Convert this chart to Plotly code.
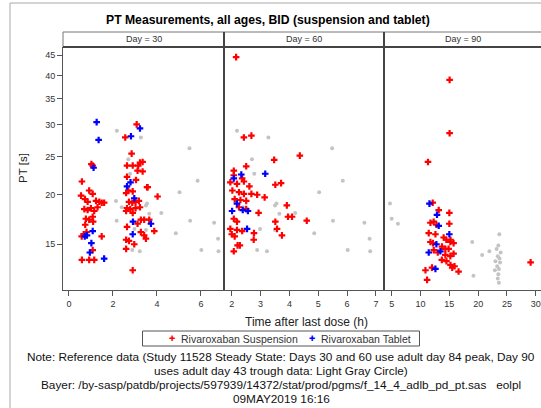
import plotly.graph_objects as go

# ---------------- data ----------------
# Day 30: Rivaroxaban Suspension (time h, PT s)
d30_susp_t = [0.59, 0.55, 0.92, 1.08, 0.73, 0.85, 1.23, 1.38, 1.49, 1.60, 0.70, 0.85, 1.00, 1.15, 1.30,
              1.08, 0.77, 0.92, 1.10, 0.74, 0.67, 0.58, 1.49, 0.59, 0.92, 1.15, 1.08, 1.08, 1.02, 0.80,
              3.08, 2.56, 2.85, 2.64, 2.90, 3.15, 3.23, 2.64, 3.12, 3.05, 3.58, 2.70, 2.90, 2.60, 4.03,
              2.73, 2.88, 3.03, 3.18, 2.64, 2.79, 3.03, 3.23, 2.90, 2.60, 3.27, 3.42, 3.65, 3.12, 2.64,
              3.27, 3.42, 3.50, 3.88, 2.60, 2.73, 2.97, 2.60, 2.90, 3.35, 3.35, 3.55]
d30_susp_pt = [21.6, 19.9, 20.5, 20.1, 19.5, 19.2, 19.3, 19.2, 19.1, 19.1, 18.4, 18.3, 18.5, 18.2, 18.6,
               17.6, 17.4, 17.3, 17.1, 16.8, 15.9, 15.7, 15.7, 13.7, 13.7, 13.7, 14.5, 23.7, 23.9, 16.1,
               30.1, 27.9, 25.4, 23.7, 23.7, 23.7, 24.1, 22.2, 23.0, 21.8, 20.9, 20.5, 20.4, 20.2, 19.8,
               19.2, 19.1, 19.2, 19.3, 18.5, 18.4, 18.5, 18.6, 18.0, 18.2, 17.3, 17.3, 17.3, 16.9, 16.6,
               16.1, 15.8, 15.5, 16.2, 15.4, 15.3, 15.0, 14.6, 12.9, 24.2, 22.9, 20.9]
# Day 30: Rivaroxaban Tablet
d30_tab_t = [1.26, 1.35, 1.12, 1.08, 0.82, 0.72, 1.02, 0.95, 1.60, 2.82, 3.23, 2.64, 2.80, 2.97, 2.91, 2.90, 3.73]
d30_tab_pt = [30.5, 27.5, 23.4, 16.2, 15.8, 15.7, 15.1, 14.3, 13.8, 28.1, 29.4, 21.0, 21.5, 19.6, 17.1, 15.9, 16.9]

# Day 60: Rivaroxaban Suspension
d60_susp_t = [2.15, 2.42, 2.68, 3.47, 4.36, 2.50, 2.07, 2.07, 2.36, 2.42, 1.95, 2.18, 3.51, 3.71, 2.61,
              2.02, 2.25, 2.42, 2.68, 2.88, 3.14, 2.10, 2.30, 2.50, 3.91, 2.25, 2.50, 2.93, 3.95, 4.09,
              4.60, 3.51, 2.07, 2.18, 1.95, 2.18, 2.36, 2.77, 3.57, 3.74, 2.10, 2.76, 2.20, 2.28, 2.07, 2.00]
d60_susp_pt = [44.5, 27.9, 28.2, 24.5, 25.1, 23.6, 23.0, 22.4, 22.0, 21.6, 21.5, 21.3, 21.2, 21.4, 21.0,
               20.5, 20.3, 20.1, 20.1, 20.0, 19.7, 19.5, 19.4, 19.3, 18.8, 18.6, 18.4, 18.0, 17.6, 17.6,
               17.2, 17.1, 17.4, 17.1, 16.4, 16.3, 16.2, 16.0, 16.4, 15.8, 15.7, 15.4, 14.9, 14.9, 14.4, 15.9]
# Day 60: Rivaroxaban Tablet
d60_tab_t = [2.33, 2.07, 3.16, 2.18, 2.01, 2.38, 2.56, 2.53]
d60_tab_pt = [22.5, 22.0, 22.6, 19.0, 18.2, 18.3, 18.2, 16.4]

# Day 90: Rivaroxaban Suspension
d90_susp_t = [15.05, 15.05, 11.30, 29.10, 12.12, 13.16, 15.00, 11.72, 12.29, 12.76, 15.00, 11.43, 12.59,
              14.02, 14.48, 11.72, 12.17, 15.17, 15.74, 13.72, 14.31, 14.88, 12.30, 13.00, 14.31, 15.17,
              15.74, 13.70, 14.50, 15.20, 15.90, 15.50, 10.86, 12.00, 16.60, 11.14, 15.20]
d90_susp_pt = [39.0, 28.6, 24.2, 13.5, 19.1, 18.3, 18.0, 17.0, 17.1, 16.8, 16.9, 16.0, 15.9,
               15.6, 15.4, 15.2, 15.1, 15.2, 15.1, 14.8, 14.6, 14.6, 14.5, 14.3, 14.1, 14.0,
               14.2, 13.7, 13.6, 13.3, 13.2, 13.1, 12.9, 13.1, 12.8, 12.2, 15.4]
# Day 90: Rivaroxaban Tablet
d90_tab_t = [11.55, 12.86, 13.16, 15.00, 12.76, 13.45, 11.43, 12.59]
d90_tab_pt = [19.0, 17.8, 16.7, 15.9, 15.0, 14.4, 14.3, 13.0]

# Reference data (Study 11528): adult day 84 peak (used for Days 30 and 60)
ref_peak_t = [2.18, 3.27, 2.70, 2.78, 5.48, 5.85, 5.03, 3.55, 3.50, 2.14, 2.40, 2.17, 3.65, 4.20, 5.51,
              6.60, 4.86, 6.78, 6.02, 6.80, 2.88, 3.22, 2.98, 3.50]
ref_peak_pt = [29.0, 27.9, 24.6, 22.6, 26.2, 21.7, 20.3, 19.0, 18.8, 19.3, 18.6, 17.2, 17.9, 18.0, 17.2,
               17.0, 16.0, 15.5, 14.5, 14.4, 14.5, 14.4, 16.4, 16.3]
# Reference data: adult day 43 trough (used for Day 90)
ref_trough_t = [4.71, 5.00, 6.09, 23.67, 18.97, 21.95, 20.69, 19.19, 23.50, 23.20, 23.90, 23.40, 23.70,
                23.00, 23.80, 23.30, 23.60, 22.90, 23.50, 23.40, 23.60]
ref_trough_pt = [19.0, 17.4, 16.9, 15.9, 15.2, 14.4, 14.1, 12.5, 14.9, 14.6, 14.3, 14.0, 13.8,
                 13.6, 13.5, 13.2, 13.0, 12.9, 12.6, 12.3, 12.0]

panel_labels = ["Day = 30", "Day = 60", "Day = 90"]
series_names = ["Rivaroxaban Suspension", "Rivaroxaban Tablet"]
y_ticks = [15, 20, 25, 30, 35, 40, 45]
x_ticks = [[0, 2, 4, 6], [2, 3, 4, 5, 6, 7], [5, 10, 15, 20, 25, 30]]
x_ranges = [[-0.27, 7.05], [1.73, 7.28], [3.67, 30.9]]

# ---------------- figure ----------------
W, H = 541, 408
FONT = "Liberation Sans, Arial, sans-serif"
RED = "#ff0000"
BLUE = "#0000ff"
GRAY = "#c4c4c4"

px = lambda v: v / W
py = lambda v: 1 - v / H

x_edges = [63, 224, 384, 541]
plot_top, plot_bot = 47, 290
strip_top = 32

fig = go.Figure()

panels = [
    (ref_peak_t, ref_peak_pt, d30_susp_t, d30_susp_pt, d30_tab_t, d30_tab_pt),
    (ref_peak_t, ref_peak_pt, d60_susp_t, d60_susp_pt, d60_tab_t, d60_tab_pt),
    (ref_trough_t, ref_trough_pt, d90_susp_t, d90_susp_pt, d90_tab_t, d90_tab_pt),
]
for i, (rt, rp, st, sp, tt, tp) in enumerate(panels):
    xa = "x" if i == 0 else f"x{i+1}"
    fig.add_trace(go.Scatter(x=rt, y=rp, xaxis=xa, yaxis="y", mode="markers", showlegend=False,
                             marker=dict(symbol="circle", size=4, color=GRAY), hoverinfo="skip"))
    fig.add_trace(go.Scatter(x=st, y=sp, xaxis=xa, yaxis="y", mode="markers",
                             name=series_names[0], showlegend=False,
                             marker=dict(symbol="cross", size=5.5, color=RED)))
    fig.add_trace(go.Scatter(x=tt, y=tp, xaxis=xa, yaxis="y", mode="markers",
                             name=series_names[1], showlegend=False,
                             marker=dict(symbol="cross", size=5.5, color=BLUE)))

axis_common = dict(showgrid=False, zeroline=False, ticks="outside", ticklen=5, tickwidth=1,
                   tickcolor="#555555", showline=True, linecolor="#555555", linewidth=1,
                   tickfont=dict(family=FONT, size=9, color="#333333"))

layout_axes = {}
for i in range(3):
    key = "xaxis" if i == 0 else f"xaxis{i+1}"
    layout_axes[key] = dict(axis_common, domain=[px(x_edges[i]), px(x_edges[i + 1])],
                            range=x_ranges[i], tickvals=x_ticks[i], anchor="y")
layout_axes["yaxis"] = dict(axis_common, type="log", domain=[py(plot_bot), py(plot_top)],
                            range=[1.0607, 1.6739], tickvals=y_ticks,
                            ticktext=[str(v) for v in y_ticks], anchor="x")

shapes = []
# outer frame
shapes.append(dict(type="line", xref="paper", yref="paper", x0=px(10), x1=px(10), y0=py(3), y1=py(420),
                   line=dict(color="#a8a8a8", width=1)))
shapes.append(dict(type="line", xref="paper", yref="paper", x0=px(10), x1=px(560), y0=py(3), y1=py(3),
                   line=dict(color="#a8a8a8", width=1)))
# strip header box
shapes.append(dict(type="rect", xref="paper", yref="paper", x0=px(63), x1=px(560), y0=py(plot_top),
                   y1=py(strip_top), line=dict(color="#777777", width=1), fillcolor="white", layer="below"))
# thick line beneath header
shapes.append(dict(type="line", xref="paper", yref="paper", x0=px(63), x1=px(560), y0=py(plot_top),
                   y1=py(plot_top), line=dict(color="#444444", width=2)))
# panel separators
for xe in [224, 384]:
    shapes.append(dict(type="line", xref="paper", yref="paper", x0=px(xe), x1=px(xe), y0=py(plot_bot),
                       y1=py(strip_top), line=dict(color="#444444", width=2)))
# legend box
shapes.append(dict(type="rect", xref="paper", yref="paper", x0=px(142.5), x1=px(419.5), y0=py(346),
                   y1=py(331), line=dict(color="#555555", width=1), fillcolor="white"))

annotations = []
annotations.append(dict(text="<b>PT Measurements, all ages, BID (suspension and tablet)</b>",
                        xref="paper", yref="paper", x=px(268), y=py(20), showarrow=False,
                        font=dict(family=FONT, size=12.2, color="#000000"), xanchor="center", yanchor="middle"))
for i, lab in enumerate(panel_labels):
    right = x_edges[i + 1] if i < 2 else 541
    annotations.append(dict(text=lab, xref="paper", yref="paper", x=px((x_edges[i] + right) / 2), y=py(39.5),
                            showarrow=False, font=dict(family=FONT, size=9, color="#333333"),
                            xanchor="center", yanchor="middle"))
annotations.append(dict(text="PT [s]", xref="paper", yref="paper", x=px(23), y=py(168), textangle=-90,
                        showarrow=False, font=dict(family=FONT, size=11.5, color="#222222"),
                        xanchor="center", yanchor="middle"))
annotations.append(dict(text="Time after last dose (h)", xref="paper", yref="paper", x=px(306), y=py(322),
                        showarrow=False, font=dict(family=FONT, size=12, color="#222222"),
                        xanchor="center", yanchor="middle"))
# legend entries (marker glyph + label)
for (mx, tx, col, name) in [(172, 179, RED, series_names[0]), (312, 319, BLUE, series_names[1])]:
    annotations.append(dict(text="\u271a", xref="paper", yref="paper", x=px(mx), y=py(338.5), showarrow=False,
                            font=dict(family="DejaVu Sans", size=7.5, color=col),
                            xanchor="center", yanchor="middle"))
    annotations.append(dict(text=name, xref="paper", yref="paper", x=px(tx), y=py(338.5), showarrow=False,
                            font=dict(family=FONT, size=10.5, color="#333333"),
                            xanchor="left", yanchor="middle"))
notes = [
    ("Note: Reference data (Study 11528 Steady State: Days 30 and 60 use adult day 84 peak, Day 90", 357),
    ("uses adult day 43 trough data: Light Gray Circle)", 371),
    ("Bayer: /by-sasp/patdb/projects/597939/14372/stat/prod/pgms/f_14_4_adlb_pd_pt.sas   eolpl", 385),
    ("09MAY2019 16:16", 399),
]
for txt, yy in notes:
    annotations.append(dict(text=txt, xref="paper", yref="paper", x=px(281), y=py(yy), showarrow=False,
                            font=dict(family=FONT, size=11.8, color="#111111"),
                            xanchor="center", yanchor="middle"))

fig.update_layout(
    width=W, height=H,
    margin=dict(l=0, r=0, t=0, b=0),
    paper_bgcolor="white", plot_bgcolor="white",
    showlegend=False,
    shapes=shapes,
    annotations=annotations,
    **layout_axes,
)

fig.write_html("out.html")
